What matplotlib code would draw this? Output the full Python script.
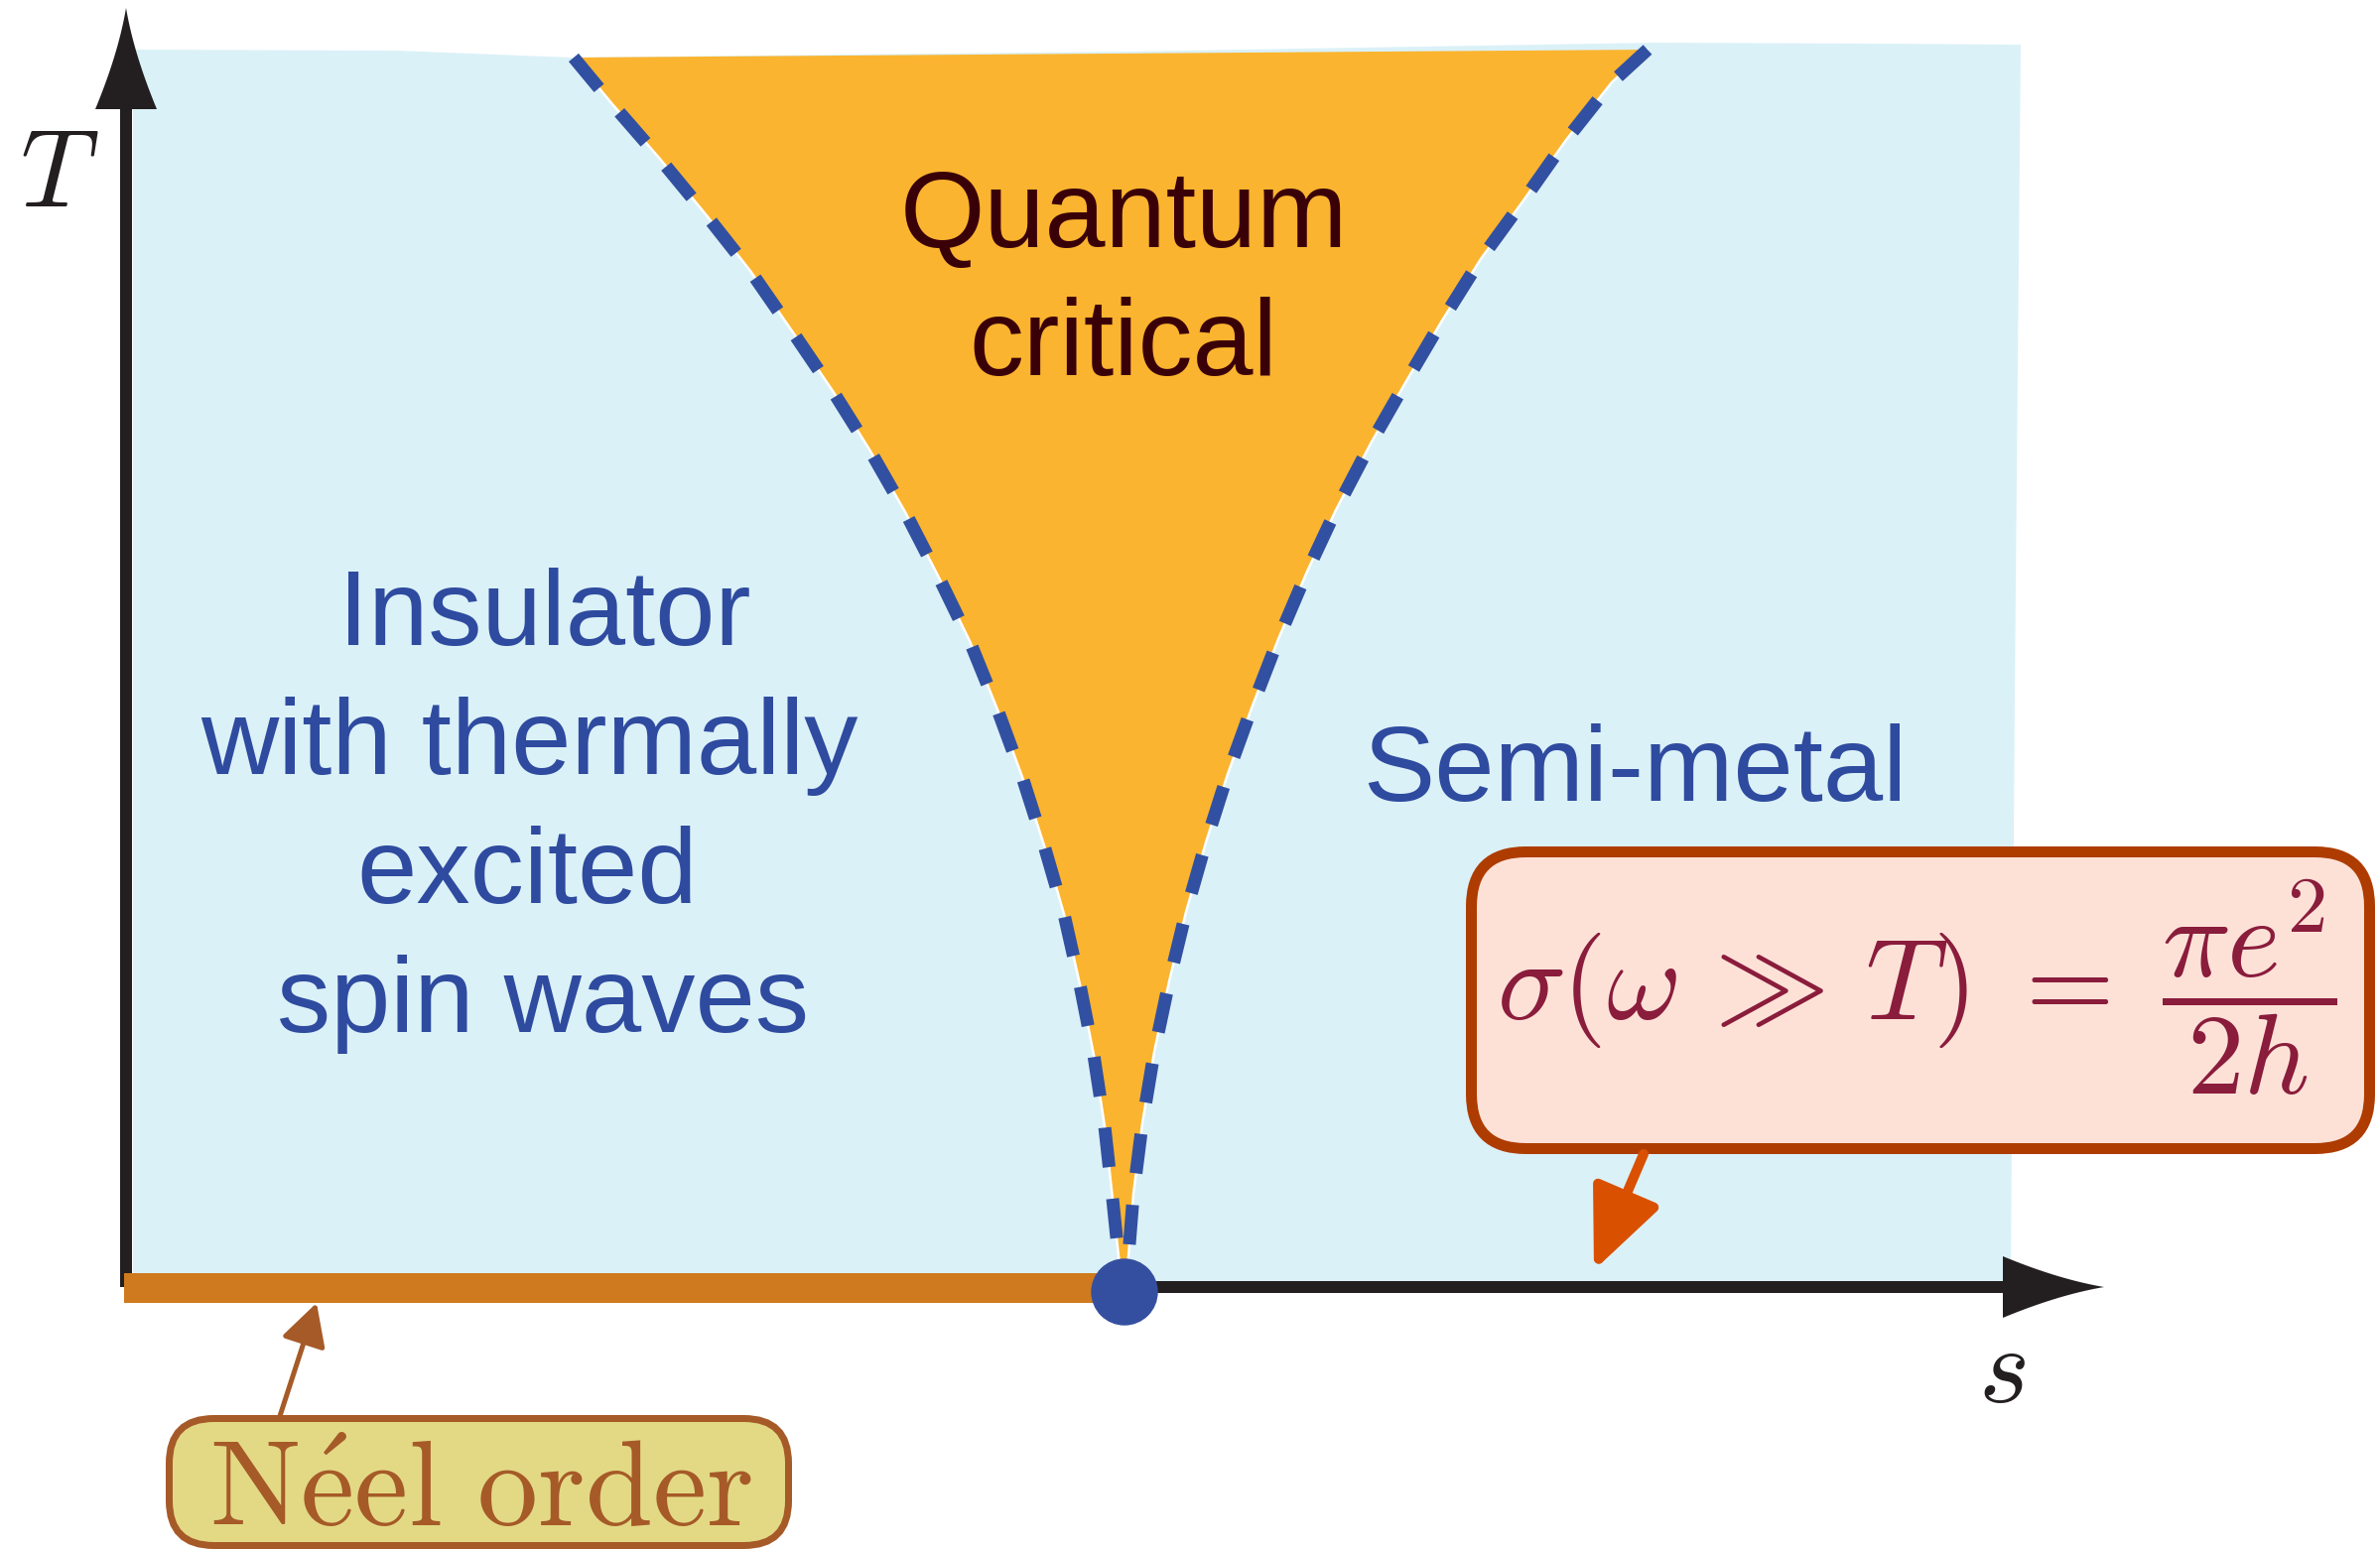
import numpy as np
import matplotlib
matplotlib.use("Agg")
import matplotlib.pyplot as plt
from matplotlib.patches import Polygon, Circle, FancyBboxPatch

# canvas in pixels, y grows downwards (schematic phase diagram)
W, H = 2398, 1562
PT = 72 / 100  # points per pixel at dpi=100

# crossover lines of the quantum critical fan (left and right), top -> critical point
LEFT_X = [578, 617, 664, 711, 756, 799, 839, 876, 912, 946, 977, 1005, 1030, 1052,
          1072, 1088, 1102, 1113, 1121, 1127, 1133]
LEFT_Y = [58, 105, 159, 216, 273, 335, 394, 453, 516, 582, 646, 715, 783, 852,
          921, 992, 1063, 1135, 1208, 1266, 1300]
RIGHT_X = [1660, 1624, 1578, 1535, 1492, 1453, 1417, 1381, 1346, 1317, 1288, 1262, 1237,
           1215, 1195, 1178, 1163, 1151, 1142, 1137, 1133]
RIGHT_Y = [50, 83, 141, 202, 261, 323, 384, 447, 514, 576, 644, 711, 780,
           849, 919, 989, 1060, 1132, 1203, 1266, 1300]

# light blue background region
BG_X = [134, 400, 576, 1133, 1669, 1900, 2036, 2030, 2026, 134]
BG_Y = [50, 51, 58, 52, 43, 44, 45, 700, 1292, 1292]

ORIGIN = (127, 1297)
CRIT = (1133, 1302)
X_END = 2120
Y_END = 8

REGION_TEXT = ["Insulator", "with thermally", "excited", "spin waves"]
REGION_TX = [549, 533, 531, 547]
REGION_TY = [650, 780, 910, 1040]

C_BG = "#DBF1F8"
C_QC = "#FBB42F"
C_DASH = "#3250A1"
C_AXIS = "#231F20"
C_NEEL = "#CF7A1E"
C_BLUE_TXT = "#2E4B9F"

plt.rcParams["mathtext.fontset"] = "cm"
plt.rcParams["lines.scale_dashes"] = False

fig = plt.figure(figsize=(W / 100, H / 100), dpi=100)
ax = fig.add_axes([0, 0, 1, 1])
ax.set_xlim(0, W)
ax.set_ylim(H, 0)
ax.axis("off")


def head(tip, base, half):
    # arrow head with slightly concave sides
    tip = np.array(tip, float)
    base = np.array(base, float)
    d = tip - base
    n = np.array([-d[1], d[0]]) / np.hypot(*d)
    c1 = base + n * half
    c2 = base - n * half
    t = np.linspace(0, 1, 20)[:, None]
    ctrl1 = base + 0.55 * d + n * half * 0.25
    ctrl2 = base + 0.55 * d - n * half * 0.25
    s1 = (1 - t) ** 2 * c1 + 2 * (1 - t) * t * ctrl1 + t ** 2 * tip
    s2 = (1 - t) ** 2 * tip + 2 * (1 - t) * t * ctrl2 + t ** 2 * c2
    return np.vstack([s1, s2])


# background and critical fan
ax.add_patch(Polygon(np.column_stack([BG_X, BG_Y]), closed=True, fc=C_BG, ec="none", zorder=1))
fan_x = LEFT_X + RIGHT_X[::-1]
fan_y = LEFT_Y + RIGHT_Y[::-1]
ax.fill(fan_x, fan_y, color=C_QC, lw=0, zorder=2)
ax.plot(LEFT_X, LEFT_Y, color="white", lw=2.5 * PT, zorder=2.5)
ax.plot(RIGHT_X, RIGHT_Y, color="white", lw=2.5 * PT, zorder=2.5)
for xs, ys in [(LEFT_X, LEFT_Y), (RIGHT_X, RIGHT_Y)]:
    ax.plot(xs, ys, color=C_DASH, lw=13 * PT, dashes=(40 * PT, 32 * PT),
            dash_capstyle="butt", zorder=3)

# axes
ax.plot([ORIGIN[0], 2030], [ORIGIN[1], ORIGIN[1]], color=C_AXIS, lw=12 * PT,
        solid_capstyle="butt", zorder=4)
ax.add_patch(Polygon(head((X_END, ORIGIN[1]), (2018, ORIGIN[1]), 31), fc=C_AXIS, ec="none", zorder=4))
ax.plot([ORIGIN[0], ORIGIN[0]], [ORIGIN[1], 105], color=C_AXIS, lw=12 * PT,
        solid_capstyle="butt", zorder=4)
ax.add_patch(Polygon(head((ORIGIN[0], Y_END), (ORIGIN[0], 110), 31), fc=C_AXIS, ec="none", zorder=4))
ax.text(60, 178, r"$T$", fontsize=79, ha="center", va="center", color=C_AXIS)
ax.text(2017, 1383, r"$s$", fontsize=79, ha="center", va="center", color=C_AXIS)

# Neel ordered line and critical point
ax.plot([125, CRIT[0]], [1298, 1298], color=C_NEEL, lw=30 * PT, solid_capstyle="butt", zorder=5)
ax.add_patch(Circle(CRIT, 33, color="#354FA0", zorder=6))

# region labels
sans = ["Liberation Sans", "DejaVu Sans"]
ax.text(1132, 249, "Quantum", fontsize=79, family=sans, color="#3A0008",
        ha="center", va="baseline", zorder=7)
ax.text(1132, 378, "critical", fontsize=79, family=sans, color="#3A0008",
        ha="center", va="baseline", zorder=7)
for s, x, y in zip(REGION_TEXT, REGION_TX, REGION_TY):
    ax.text(x, y, s, fontsize=78, family=sans, color=C_BLUE_TXT,
            ha="center", va="baseline", zorder=7)
ax.text(1647, 807, "Semi-metal", fontsize=78, family=sans, color=C_BLUE_TXT,
        ha="center", va="baseline", zorder=7)

# conductivity box
ax.add_patch(FancyBboxPatch((1482.5, 858.5), 905, 299,
                            boxstyle="round,pad=0,rounding_size=55",
                            fc="#FDE1D7", ec="#AE3C00", lw=11 * PT, zorder=8))
ax.text(1931, 995, r"$\sigma(\omega\,\gg\,T)\;=\;\dfrac{\pi e^2}{2h}$", fontsize=83,
        color="#8A1C3C", ha="center", va="center", zorder=9)
ax.annotate("", xy=(1606, 1280), xytext=(1656, 1163),
            arrowprops=dict(arrowstyle="-|>,head_length=5,head_width=2.2",
                            mutation_scale=10, color="#D95000", lw=10 * PT,
                            shrinkA=0, shrinkB=0), zorder=8)

# Neel order box
ax.add_patch(FancyBboxPatch((170.5, 1429.5), 624, 128,
                            boxstyle="round,pad=0,rounding_size=45",
                            fc="#E3D985", ec="#A65A28", lw=7 * PT, zorder=8))
ax.text(485, 1538, r"$\mathrm{N\acute{e}el\ order}$", fontsize=88, color="#A65A28",
        ha="center", va="baseline", zorder=9)
ax.annotate("", xy=(319, 1313), xytext=(282, 1427),
            arrowprops=dict(arrowstyle="-|>,head_length=2.6,head_width=1.4",
                            mutation_scale=10, color="#A65A28", lw=5 * PT,
                            shrinkA=0, shrinkB=0), zorder=8)

fig.savefig("out.png", dpi=100)
